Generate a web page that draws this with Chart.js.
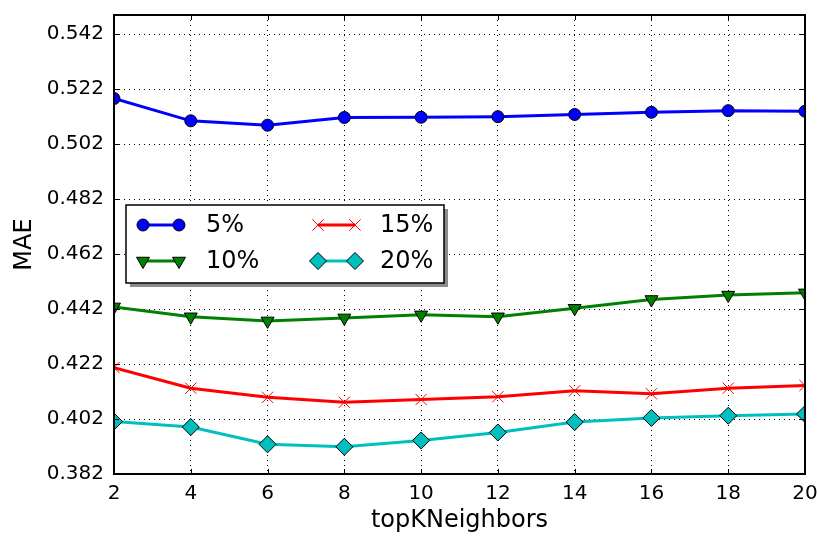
<!DOCTYPE html>
<html>
<head>
<meta charset="utf-8">
<script src="https://cdn.jsdelivr.net/npm/chart.js@4/dist/chart.umd.min.js"></script>
<style>
  html, body { margin: 0; padding: 0; background: #fff; }
  #wrap { width: 818px; height: 538px; }
</style>
</head>
<body>
<div id="wrap"><canvas id="c" width="818" height="538"></canvas></div>
<script>
// Neighbourhood size on the x axis
const topK = [2, 4, 6, 8, 10, 12, 14, 16, 18, 20];

// MAE per sparsity level
const mae5  = [0.5186, 0.5105, 0.5089, 0.5117, 0.5118, 0.5120, 0.5128, 0.5136, 0.5142, 0.5140];
const mae10 = [0.4428, 0.4392, 0.4377, 0.4388, 0.4399, 0.4392, 0.4423, 0.4455, 0.4471, 0.4479];
const mae15 = [0.4207, 0.4132, 0.4099, 0.4081, 0.4091, 0.4101, 0.4123, 0.4112, 0.4132, 0.4142];
const mae20 = [0.4011, 0.3991, 0.3928, 0.3919, 0.3942, 0.3971, 0.4009, 0.4024, 0.4032, 0.4038];

const seriesNames = ['5%', '10%', '15%', '20%'];

// Axis ticks
const xTickValues = [2, 4, 6, 8, 10, 12, 14, 16, 18, 20];
const yTickValues = [0.382, 0.402, 0.422, 0.442, 0.462, 0.482, 0.502, 0.522, 0.542];
const yTickLabels = ['0.382', '0.402', '0.422', '0.442', '0.462', '0.482', '0.502', '0.522', '0.542'];

const FONT = "'DejaVu Sans', 'Liberation Sans', sans-serif";

function pts(ys) { return topK.map((x, i) => ({ x: x, y: ys[i] })); }

const datasets = [
  { label: seriesNames[0], data: pts(mae5), borderColor: '#0000ff', backgroundColor: '#0000ff',
    pointStyle: 'circle', pointRadius: 6, pointRotation: 0,
    pointBackgroundColor: '#0000ff', pointBorderColor: '#000000', pointBorderWidth: 1 },
  { label: seriesNames[1], data: pts(mae10), borderColor: '#008000', backgroundColor: '#008000',
    pointStyle: 'triangle', pointRadius: 7.5, pointRotation: 180,
    pointBackgroundColor: '#008000', pointBorderColor: '#000000', pointBorderWidth: 1 },
  { label: seriesNames[2], data: pts(mae15), borderColor: '#ff0000', backgroundColor: '#ff0000',
    pointStyle: 'crossRot', pointRadius: 8, pointRotation: 0,
    pointBackgroundColor: '#ff0000', pointBorderColor: '#ff0000', pointBorderWidth: 1 },
  { label: seriesNames[3], data: pts(mae20), borderColor: '#00bfbf', backgroundColor: '#00bfbf',
    pointStyle: 'rectRot', pointRadius: 8.5, pointRotation: 0,
    pointBackgroundColor: '#00bfbf', pointBorderColor: '#000000', pointBorderWidth: 1 }
].map(d => Object.assign(d, {
  borderWidth: 3, tension: 0, fill: false, clip: 0, pointHoverRadius: d.pointRadius
}));

// Frame with inward ticks on all four sides, plus a boxed legend with a drop shadow
const framePlugin = {
  id: 'frameAndLegend',
  afterDatasetsDraw(chart) {
    const { ctx, chartArea: a, scales } = chart;
    ctx.save();
    ctx.strokeStyle = '#000';
    ctx.lineWidth = 1;
    const tl = 5;
    ctx.beginPath();
    xTickValues.forEach(v => {
      const x = Math.round(scales.x.getPixelForValue(v)) + 0.5;
      ctx.moveTo(x, a.bottom); ctx.lineTo(x, a.bottom - tl);
      ctx.moveTo(x, a.top); ctx.lineTo(x, a.top + tl);
    });
    yTickValues.forEach(v => {
      const y = Math.round(scales.y.getPixelForValue(v)) + 0.5;
      ctx.moveTo(a.left, y); ctx.lineTo(a.left + tl, y);
      ctx.moveTo(a.right, y); ctx.lineTo(a.right - tl, y);
    });
    ctx.stroke();
    ctx.lineWidth = 2;
    ctx.strokeRect(a.left, a.top, a.right - a.left, a.bottom - a.top);
    ctx.restore();
  },
  afterDraw(chart) {
    const { ctx } = chart;
    const box = { x: 126, y: 205, w: 318, h: 78 };
    ctx.save();
    ctx.fillStyle = '#8c8c8c';
    ctx.fillRect(box.x + 4, box.y + 4, box.w, box.h);
    ctx.fillStyle = '#ffffff';
    ctx.fillRect(box.x, box.y, box.w, box.h);
    ctx.strokeStyle = '#000';
    ctx.lineWidth = 1.5;
    ctx.strokeRect(box.x, box.y, box.w, box.h);

    // two columns: 5% / 10% on the left, 15% / 20% on the right
    const slots = [
      { x1: 143, x2: 179, tx: 206, y: 225 },
      { x1: 143, x2: 179, tx: 206, y: 261 },
      { x1: 318, x2: 355, tx: 380, y: 225 },
      { x1: 318, x2: 355, tx: 380, y: 261 }
    ];
    chart.data.datasets.forEach((ds, i) => {
      const s = slots[i];
      ctx.strokeStyle = ds.borderColor;
      ctx.lineWidth = ds.borderWidth;
      ctx.beginPath();
      ctx.moveTo(s.x1, s.y); ctx.lineTo(s.x2, s.y);
      ctx.stroke();
      [s.x1, s.x2].forEach(px => {
        ctx.fillStyle = ds.pointBackgroundColor;
        ctx.strokeStyle = ds.pointBorderColor;
        ctx.lineWidth = ds.pointBorderWidth;
        Chart.helpers.drawPoint(ctx, {
          pointStyle: ds.pointStyle, rotation: ds.pointRotation,
          radius: ds.pointRadius, borderWidth: ds.pointBorderWidth
        }, px, s.y);
      });
      ctx.fillStyle = '#000';
      ctx.font = '24px ' + FONT;
      ctx.textAlign = 'left';
      ctx.textBaseline = 'middle';
      ctx.fillText(ds.label, s.tx, s.y + 1);
    });
    ctx.restore();
  }
};

new Chart(document.getElementById('c'), {
  type: 'line',
  data: { datasets: datasets },
  plugins: [framePlugin],
  options: {
    responsive: false,
    animation: false,
    events: [],
    layout: { padding: { top: 15, right: 13, left: 0, bottom: 0 } },
    plugins: { legend: { display: false }, tooltip: { enabled: false } },
    scales: {
      x: {
        type: 'linear', min: 2, max: 20,
        afterBuildTicks(scale) { scale.ticks = xTickValues.map(v => ({ value: v })); },
        afterFit(scale) { scale.height = 64; scale.paddingLeft = 0; scale.paddingRight = 0; },
        ticks: { color: '#000', font: { family: FONT, size: 20 }, padding: 8,
                 maxRotation: 0, autoSkip: false, callback: v => String(v) },
        grid: { color: '#000', lineWidth: 1, drawTicks: false },
        border: { display: false, dash: [1, 4] },
        title: { display: true, text: 'topKNeighbors', color: '#000',
                 font: { family: FONT, size: 24, lineHeight: 1.2 }, padding: { top: 0, bottom: 3 } }
      },
      y: {
        type: 'linear', min: 0.382, max: 0.549,
        afterBuildTicks(scale) { scale.ticks = yTickValues.map(v => ({ value: v })); },
        afterFit(scale) { scale.width = 114; scale.paddingTop = 0; scale.paddingBottom = 0; },
        ticks: { color: '#000', font: { family: FONT, size: 20 }, padding: 10,
                 autoSkip: false,
                 callback: (v, i) => yTickLabels[i] },
        grid: { color: '#000', lineWidth: 1, drawTicks: false },
        border: { display: false, dash: [1, 4] },
        title: { display: true, text: 'MAE', color: '#000',
                 font: { family: FONT, size: 24, lineHeight: 1.2 }, padding: { top: 10, bottom: 0 } }
      }
    }
  }
});
</script>
</body>
</html>
